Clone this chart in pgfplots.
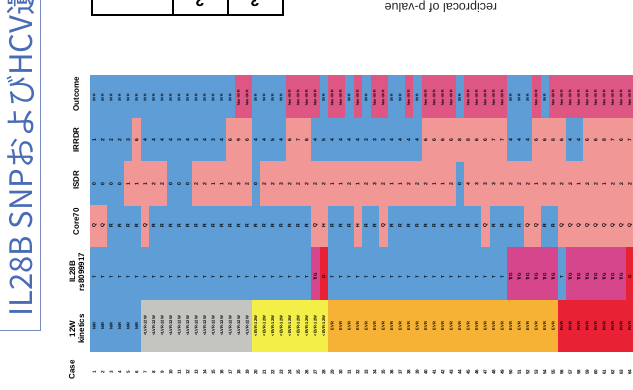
\documentclass[border=0pt]{standalone}
\usepackage{fontspec}
\setmainfont{Liberation Sans}
\newfontfamily\cjk{Noto Sans CJK JP}
\usepackage{pgfplots}
\pgfplotsset{compat=1.18}
\definecolor{cblue}{RGB}{95,157,214}
\definecolor{csalmon}{RGB}{241,151,150}
\definecolor{cmag}{RGB}{221,86,132}
\definecolor{cil}{RGB}{214,70,140}
\definecolor{cred}{RGB}{232,33,52}
\definecolor{cgray}{RGB}{196,196,192}
\definecolor{cyel}{RGB}{243,238,72}
\definecolor{corange}{RGB}{245,178,52}
\definecolor{ctitle}{RGB}{72,108,182}
\definecolor{cframe}{RGB}{120,140,190}
% cell: colour, from case boundary, to case boundary, top y, bottom y
\newcommand\cell[5]{\addplot[fill=#1,draw=none,forget plot] coordinates {(#2,#4) (#3,#4) (#3,#5) (#2,#5)} -- cycle;}
% a row of texts, one for each case
\newcommand\labrow[3]{\addplot[draw=none,no markers,forget plot,nodes near coords,point meta=explicit symbolic,
  nodes near coords style={anchor=center,rotate=90,inner sep=0pt,font=\bfseries\fontsize{#2}{#2}\selectfont}]
  table[x expr=\coordindex+0.5,y expr=#1,meta=l,row sep=\\]{#3};}
\begin{document}
\begin{tikzpicture}
\path[use as bounding box] (0,0) rectangle (633pt,389pt);
\clip (0,0) rectangle (633pt,389pt);
\begin{axis}[at={(0,0)},anchor=south west,width=633pt,height=389pt,scale only axis,
  xmin=-10.588,xmax=63.882,ymin=0,ymax=389,y dir=reverse,hide axis,clip=true]
% background of the grid
\cell{cblue}{0}{64}{75}{352}
% Outcome (Non-SVR)
\cell{cmag}{17}{19}{75}{118}\cell{cmag}{23}{27}{75}{118}\cell{cmag}{28}{30}{75}{118}
\cell{cmag}{31}{32}{75}{118}\cell{cmag}{33}{35}{75}{118}\cell{cmag}{37}{38}{75}{118}
\cell{cmag}{39}{43}{75}{118}\cell{cmag}{44}{49}{75}{118}\cell{cmag}{52}{53}{75}{118}
\cell{cmag}{54}{64}{75}{118}
% IRRDR
\cell{csalmon}{5}{6}{118}{161.5}\cell{csalmon}{16}{19}{118}{161.5}\cell{csalmon}{23}{26}{118}{161.5}
\cell{csalmon}{39}{49}{118}{161.5}\cell{csalmon}{52}{56}{118}{161.5}\cell{csalmon}{58}{64}{118}{161.5}
% ISDR
\cell{csalmon}{4}{9}{161}{205.5}\cell{csalmon}{12}{19}{161}{205.5}\cell{csalmon}{20}{43}{161}{205.5}
\cell{csalmon}{44}{64}{161}{205.5}
% Core70
\cell{csalmon}{0}{2}{205}{247}\cell{csalmon}{6}{7}{205}{247}\cell{csalmon}{26}{28}{205}{247}
\cell{csalmon}{31}{32}{205}{247}\cell{csalmon}{34}{35}{205}{247}\cell{csalmon}{46}{47}{205}{247}
\cell{csalmon}{51}{53}{205}{247}\cell{csalmon}{55}{64}{205}{247}
% IL28B
\cell{cil}{26}{27}{247}{300}\cell{cil}{49}{55}{247}{300}\cell{cil}{56}{63}{247}{300}
\cell{cred}{27}{28}{247}{300}\cell{cred}{63}{64}{247}{300}
% 12W kinetics
\cell{cgray}{6}{19}{300}{352}\cell{cyel}{19}{28}{300}{352}\cell{corange}{28}{55}{300}{352}
\cell{cred}{55}{64}{300}{352}
% texts in the cells
\labrow{98}{3.6}{l\\SVR\\SVR\\SVR\\SVR\\SVR\\SVR\\SVR\\SVR\\SVR\\SVR\\SVR\\SVR\\SVR\\SVR\\SVR\\SVR\\SVR\\Non-SVR\\Non-SVR\\SVR\\SVR\\SVR\\SVR\\Non-SVR\\Non-SVR\\Non-SVR\\Non-SVR\\SVR\\Non-SVR\\Non-SVR\\SVR\\Non-SVR\\SVR\\Non-SVR\\Non-SVR\\SVR\\SVR\\Non-SVR\\SVR\\Non-SVR\\Non-SVR\\Non-SVR\\Non-SVR\\SVR\\Non-SVR\\Non-SVR\\Non-SVR\\Non-SVR\\Non-SVR\\SVR\\SVR\\SVR\\Non-SVR\\SVR\\Non-SVR\\Non-SVR\\Non-SVR\\Non-SVR\\Non-SVR\\Non-SVR\\Non-SVR\\Non-SVR\\Non-SVR\\Non-SVR\\}
\labrow{140}{5}{l\\1\\2\\2\\2\\3\\6\\4\\4\\4\\4\\3\\4\\3\\4\\3\\4\\6\\9\\6\\4\\4\\5\\4\\6\\7\\6\\4\\5\\4\\4\\4\\4\\3\\3\\3\\4\\4\\4\\4\\6\\6\\6\\6\\8\\8\\6\\6\\7\\7\\4\\4\\4\\6\\6\\8\\6\\4\\4\\6\\6\\8\\7\\6\\7\\}
\labrow{184}{5}{l\\0\\0\\0\\0\\1\\1\\1\\2\\2\\0\\0\\0\\2\\2\\1\\1\\2\\3\\2\\0\\2\\2\\3\\2\\2\\2\\2\\2\\1\\1\\2\\1\\2\\3\\2\\1\\1\\2\\2\\2\\1\\1\\2\\0\\4\\3\\3\\3\\3\\2\\2\\2\\1\\2\\3\\2\\2\\1\\2\\2\\1\\2\\2\\2\\}
\labrow{226}{5}{l\\Q\\Q\\R\\R\\R\\R\\Q\\R\\R\\R\\R\\R\\R\\R\\R\\R\\R\\R\\R\\R\\R\\R\\R\\R\\R\\R\\Q\\H\\R\\R\\R\\H\\R\\R\\Q\\R\\R\\R\\R\\R\\R\\R\\R\\R\\R\\R\\Q\\R\\R\\R\\R\\Q\\Q\\R\\R\\Q\\Q\\Q\\Q\\Q\\Q\\Q\\Q\\Q\\}
\labrow{277}{4.5}{l\\T\\T\\T\\T\\T\\T\\T\\T\\T\\T\\T\\T\\T\\T\\T\\T\\T\\T\\T\\T\\T\\T\\T\\T\\T\\T\\T/G\\G\\T\\T\\T\\T\\T\\T\\T\\T\\T\\T\\T\\T\\T\\T\\T\\T\\T\\T\\T\\T\\T\\T/G\\T/G\\T/G\\T/G\\T/G\\T/G\\T\\T/G\\T/G\\T/G\\T/G\\T/G\\T/G\\T/G\\G\\}
\labrow{326}{4}{l\\N/R\\N/R\\N/R\\N/R\\N/R\\N/R\\<LVR-12W\\<LVR-12W\\<LVR-12W\\<LVR-12W\\<LVR-12W\\<LVR-12W\\<LVR-12W\\<LVR-12W\\<LVR-12W\\<LVR-12W\\<LVR-12W\\<LVR-12W\\<LVR-12W\\<EVR-12W\\<EVR-12W\\<EVR-12W\\<EVR-12W\\<EVR-12W\\<EVR-12W\\<EVR-12W\\<EVR-12W\\<EVR-12W\\EVR\\EVR\\EVR\\EVR\\EVR\\EVR\\EVR\\EVR\\EVR\\EVR\\EVR\\EVR\\EVR\\EVR\\EVR\\EVR\\EVR\\EVR\\EVR\\EVR\\EVR\\EVR\\EVR\\EVR\\EVR\\EVR\\EVR\\RVR\\RVR\\RVR\\RVR\\RVR\\RVR\\RVR\\RVR\\RVR\\}
\labrow{372}{4.6}{l\\1\\2\\3\\4\\5\\6\\7\\8\\9\\10\\11\\12\\13\\14\\15\\16\\17\\18\\19\\20\\21\\22\\23\\24\\25\\26\\27\\28\\29\\30\\31\\32\\33\\34\\35\\36\\37\\38\\39\\40\\41\\42\\43\\44\\45\\46\\47\\48\\49\\50\\51\\52\\53\\54\\55\\56\\57\\58\\59\\60\\61\\62\\63\\64\\}
% row names
\node[rotate=90,font=\bfseries\fontsize{8}{9}\selectfont] at (axis cs:-2.118,370) {Case};
\node[rotate=90,align=center,font=\bfseries\fontsize{8}{9}\selectfont] at (axis cs:-1.53,329) {12W\\kinetics};
\node[rotate=90,align=center,font=\bfseries\fontsize{8}{9}\selectfont] at (axis cs:-1.53,272) {IL28B\\rs8099917};
\node[rotate=90,font=\bfseries\fontsize{8}{9}\selectfont] at (axis cs:-1.647,222) {Core70};
\node[rotate=90,font=\bfseries\fontsize{8}{9}\selectfont] at (axis cs:-1.647,180) {ISDR};
\node[rotate=90,font=\bfseries\fontsize{8}{9}\selectfont] at (axis cs:-1.647,140) {IRRDR};
\node[rotate=90,font=\bfseries\fontsize{8}{9}\selectfont] at (axis cs:-1.647,94) {Outcome};
% slide title and its frame
\addplot[cframe,line width=0.8pt,no markers,forget plot] coordinates {(-5.882,-5) (-5.882,330) (-11,330)};
\node[rotate=90,anchor=west,inner sep=0pt,text=ctitle,font=\cjk\fontsize{31}{31}\selectfont] at (axis cs:-8.118,317) {IL28B SNPおよびHCV遺};
% table above, upside down
\addplot[black,line width=1.2pt,no markers,forget plot] coordinates {(0.235,-5) (0.235,15) (22.706,15) (22.706,-5)};
\addplot[black,line width=1.2pt,no markers,forget plot] coordinates {(9.765,-5) (9.765,15)};
\addplot[black,line width=1.2pt,no markers,forget plot] coordinates {(16.235,-5) (16.235,15)};
\node[rotate=180,font=\bfseries\fontsize{16}{16}\selectfont] at (axis cs:12.94,1) {2};
\node[rotate=180,font=\bfseries\fontsize{16}{16}\selectfont] at (axis cs:19.41,1) {3};
\node[rotate=180,text=black!85,font=\fontsize{12.5}{13}\selectfont] at (axis cs:41.29,7) {reciprocal of p-value};
\end{axis}
\end{tikzpicture}
\end{document}
